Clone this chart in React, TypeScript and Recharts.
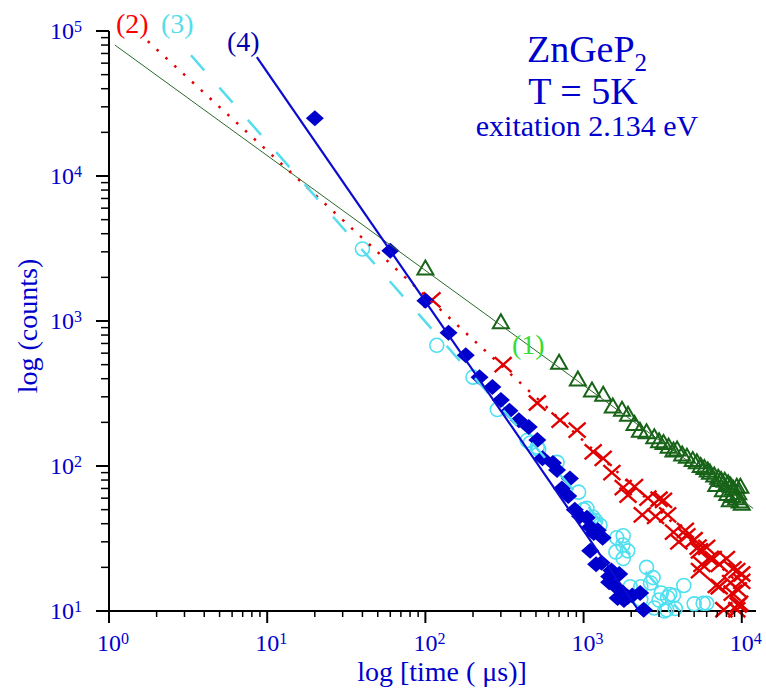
import React from 'react';
import { ScatterChart, Scatter, XAxis, YAxis } from 'recharts';

const BLUE = '#0000cc';
const FONT = '"Liberation Serif", "Times New Roman", serif';

// (1) hollow triangles  [time µs, counts]
const series1: [number, number][] = [
  [100, 2300], [300, 980], [700, 515], [920, 395], [1130, 332], [1330, 310], [1530, 257],
  [1750, 244], [1910, 226], [2100, 195], [2270, 175], [2500, 171], [2800, 158], [3000, 148],
  [3200, 144], [3450, 136], [3700, 128], [3900, 130], [4200, 120], [4500, 116], [4900, 110],
  [5200, 106], [5500, 100], [5800, 97], [6100, 93], [6300, 90], [6700, 86], [7100, 83],
  [7400, 80], [7800, 79], [8200, 76], [8500, 73], [8800, 70], [9300, 72], [9800, 72],
  [6900, 74], [7600, 68], [8100, 64], [8700, 62], [9200, 60], [9700, 57], [10000, 55],
  [9500, 65], [8400, 58],
];

// (2) crosses
const series2: [number, number][] = [
  [110, 1400], [310, 500], [510, 272], [710, 207], [910, 177], [1150, 125], [1330, 113],
  [1510, 90], [1780, 71], [1910, 63], [2100, 72], [2550, 60], [3000, 59], [3200, 58],
  [2350, 46], [2850, 45], [3400, 46], [3700, 35], [4000, 30], [4400, 36], [4500, 33],
  [5000, 31], [5300, 27.6], [5400, 26], [6000, 27.5], [5400, 19], [5600, 21], [6300, 23],
  [6600, 23], [7200, 21], [8000, 23], [8800, 19.5], [9300, 19], [10000, 18], [10000, 16],
  [6900, 15], [7200, 14.7], [8500, 15.7], [8700, 13.3], [9500, 14], [9700, 11.3], [9500, 11],
  [7700, 10.2], [9300, 10.2],
];

// (3) hollow circles
const series3: [number, number][] = [
  [40, 3140], [118, 680], [200, 410], [285, 245], [440, 150], [460, 144], [510, 135],
  [520, 130], [680, 106], [930, 66], [1000, 50], [1050, 51], [1140, 44.5], [1190, 42],
  [1270, 39], [1620, 32], [1780, 33], [1770, 28.5], [1600, 25.5], [1900, 26], [1780, 23],
  [2500, 20], [2750, 17], [2650, 15.6], [2300, 14.7], [1970, 14.7], [3100, 13.3], [3400, 12.4],
  [3700, 12.8], [4300, 15], [5000, 11.2], [5700, 11.3], [6000, 11.3], [2800, 10.5],
  [3350, 10.2], [3800, 10.4], [3000, 11.9], [2300, 12], [3250, 10], [3500, 13],
];

// (4) filled diamonds
const series4: [number, number][] = [
  [20, 25000], [60, 3050], [100, 1380], [140, 830], [180, 580], [220, 410], [265, 350],
  [300, 285], [340, 240], [390, 207], [450, 186], [510, 151], [550, 113], [640, 105],
  [680, 94], [730, 70], [820, 82], [800, 62], [880, 50], [950, 45], [1050, 44], [1100, 38],
  [1160, 34.5], [1230, 36], [1320, 32], [1100, 26], [1200, 21], [1300, 21.5], [1450, 17.3],
  [1500, 19], [1680, 18], [1450, 15.8], [1600, 14.7], [1780, 13.3], [1640, 12.3],
  [1800, 11.9], [2030, 12.8], [2280, 13.3], [2400, 10.2], [1900, 12.5],
];

// fitted lines, end points
const fit1: [number, number][] = [[1.09, 80000], [11800, 51]];
const fit2: [number, number][] = [[1.76, 85000], [11000, 13.5]];
const fit3: [number, number][] = [[3.3, 68000], [4060, 10]];
const fit4: [number, number][] = [[8.6, 66000], [2240, 10]];

const xTicks = [
  1, 2, 3, 4, 5, 6, 7, 8, 9, 10, 20, 30, 40, 50, 60, 70, 80, 90, 100, 200, 300, 400, 500, 600,
  700, 800, 900, 1000, 2000, 3000, 4000, 5000, 6000, 7000, 8000, 9000, 10000,
];
const yTicks = [
  10, 20, 30, 40, 50, 60, 70, 80, 90, 100, 200, 300, 400, 500, 600, 700, 800, 900, 1000,
  2000, 3000, 4000, 5000, 6000, 7000, 8000, 9000, 10000, 20000, 30000, 40000, 50000, 60000,
  70000, 80000, 90000, 100000,
];

const toPts = (a: [number, number][]) => a.map(([x, y]) => ({ x, y }));

const decade = (v: number) => {
  const e = Math.round(Math.log10(v));
  return { e, major: Math.abs(Math.log10(v) - e) < 1e-6 };
};

const XTick = ({ x, y, payload }: any) => {
  const { e, major } = decade(payload.value);
  return (
    <g>
      <line x1={x} x2={x} y1={y} y2={y + (major ? 12 : 6)} stroke="#000" strokeWidth={major ? 2 : 1.5} />
      {major && (
        <>
          <text x={x} y={y + 40} textAnchor="middle" fontSize={24} fill={BLUE} fontFamily={FONT}>10</text>
          <text x={x + 12} y={y + 33} fontSize={16} fill={BLUE} fontFamily={FONT}>{e}</text>
        </>
      )}
    </g>
  );
};

const YTick = ({ x, y, payload }: any) => {
  const { e, major } = decade(payload.value);
  return (
    <g>
      <line x1={x} x2={x - (major ? 13 : 8)} y1={y} y2={y} stroke="#000" strokeWidth={major ? 2 : 1.5} />
      {major && (
        <>
          <text x={x - 35} y={y + 8} textAnchor="end" fontSize={24} fill={BLUE} fontFamily={FONT}>10</text>
          <text x={x - 35} y={y + 1} fontSize={16} fill={BLUE} fontFamily={FONT}>{e}</text>
        </>
      )}
    </g>
  );
};

const Triangle = ({ cx, cy }: any) => (
  <path d={`M${cx},${cy - 8}L${cx + 8},${cy + 6}L${cx - 8},${cy + 6}Z`} fill="none" stroke="#176317" strokeWidth={2} />
);
const Cross = ({ cx, cy }: any) => (
  <path d={`M${cx - 8.5},${cy - 7.5}L${cx + 8.5},${cy + 7.5}M${cx - 8.5},${cy + 7.5}L${cx + 8.5},${cy - 7.5}`} stroke="#e00000" strokeWidth={2.4} />
);
const Ring = ({ cx, cy }: any) => (
  <circle cx={cx} cy={cy} r={7} fill="none" stroke="#4de0f0" strokeWidth={1.6} />
);
const Diamond = ({ cx, cy }: any) => (
  <path d={`M${cx},${cy - 8}L${cx + 9},${cy}L${cx},${cy + 8}L${cx - 9},${cy}Z`} fill={BLUE} />
);
const NoDot = () => <g />;

export default function App() {
  return (
    <div style={{ position: 'absolute', left: 0, top: 0, width: 766, height: 694, background: '#fff' }}>
      <ScatterChart width={766} height={694} margin={{ top: 31, right: 10, bottom: 23, left: 49 }}>
        <XAxis
          type="number"
          dataKey="x"
          scale="log"
          domain={[1, 12300]}
          ticks={xTicks}
          interval={0}
          height={60}
          tickSize={0}
          tickMargin={0}
          tickLine={false}
          tick={<XTick />}
          axisLine={{ stroke: '#000', strokeWidth: 2 }}
        />
        <YAxis
          type="number"
          dataKey="y"
          scale="log"
          domain={[10, 100000]}
          ticks={yTicks}
          interval={0}
          width={60}
          tickSize={0}
          tickMargin={0}
          tickLine={false}
          tick={<YTick />}
          axisLine={{ stroke: '#000', strokeWidth: 2 }}
        />
        <Scatter data={toPts(series1)} shape={Triangle} isAnimationActive={false} />
        <Scatter data={toPts(series2)} shape={Cross} isAnimationActive={false} />
        <Scatter data={toPts(series3)} shape={Ring} isAnimationActive={false} />
        <Scatter data={toPts(series4)} shape={Diamond} isAnimationActive={false} />
        <Scatter data={toPts(fit1)} shape={NoDot} line={{ stroke: '#2a6a2a', strokeWidth: 1 }} isAnimationActive={false} />
        <Scatter data={toPts(fit2)} shape={NoDot} line={{ stroke: '#e00000', strokeWidth: 2.5, strokeDasharray: '2.5 9.5' }} isAnimationActive={false} />
        <Scatter data={toPts(fit3)} shape={NoDot} line={{ stroke: '#55ddee', strokeWidth: 2.5, strokeDasharray: '20 23' }} isAnimationActive={false} />
        <Scatter data={toPts(fit4)} shape={NoDot} line={{ stroke: '#0a0ad0', strokeWidth: 2.2 }} isAnimationActive={false} />
      </ScatterChart>
      <svg width={766} height={694} style={{ position: 'absolute', left: 0, top: 0, pointerEvents: 'none' }} fontFamily={FONT}>
        <text x={116} y={33} fontSize={28} fill="#ff0000">(2)</text>
        <text x={161} y={33} fontSize={28} fill="#55dde8">(3)</text>
        <text x={227} y={51} fontSize={28} fill="#0000aa">(4)</text>
        <text x={512} y={354} fontSize={28} fill="#33dd33">(1)</text>
        <text x={587} y={62} fontSize={38} fill={BLUE} textAnchor="middle">
          ZnGeP<tspan fontSize={25} dy={9}>2</tspan>
        </text>
        <text x={583} y={104} fontSize={38} fill={BLUE} textAnchor="middle">T = 5K</text>
        <text x={587} y={136} fontSize={30} fill={BLUE} textAnchor="middle">exitation 2.134 eV</text>
        <text transform="translate(37,326) rotate(-90)" textAnchor="middle" fontSize={28} fill={BLUE}>log (counts)</text>
        <text x={442} y={681} textAnchor="middle" fontSize={28} fill={BLUE}>log [time ( μs)]</text>
      </svg>
    </div>
  );
}
